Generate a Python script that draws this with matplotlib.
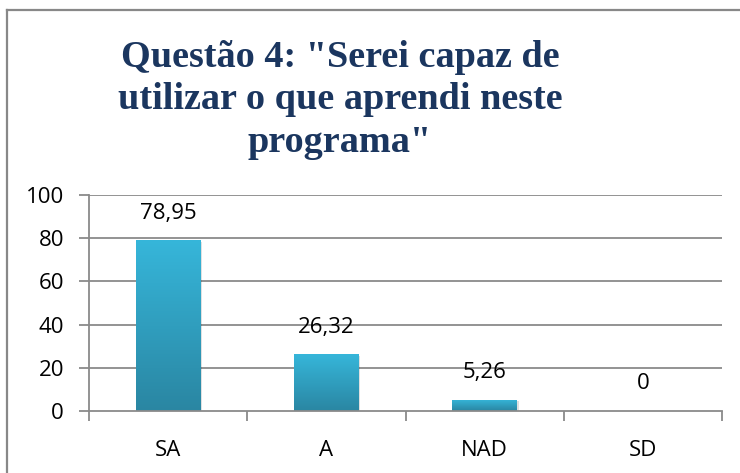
import matplotlib
matplotlib.use("Agg")
import matplotlib.pyplot as plt
import numpy as np
from matplotlib.colors import LinearSegmentedColormap
from matplotlib.patches import Rectangle
from matplotlib.lines import Line2D

categories = ["SA", "A", "NAD", "SD"]
values = [78.95, 26.32, 5.26, 0]
value_labels = ["78,95", "26,32", "5,26", "0"]
yticks = [0, 20, 40, 60, 80, 100]
title_lines = ['Questão 4: "Serei capaz de', 'utilizar o que aprendi neste', 'programa"']

W, H = 740, 473
fig = plt.figure(figsize=(W / 100, H / 100), dpi=100)
fig.patch.set_facecolor("white")

ax = fig.add_axes([89 / W, 62 / H, (722 - 89) / W, 216 / H])
ax.set_xlim(-0.5, len(categories) - 0.5)
ax.set_ylim(0, 100)

grid_c = "#8a8a8a"
for y in yticks[1:]:
    ax.axhline(y, color=grid_c, lw=1.3, zorder=0)

for s in ["top", "right"]:
    ax.spines[s].set_visible(False)
for s in ["left", "bottom"]:
    ax.spines[s].set_color(grid_c)
    ax.spines[s].set_linewidth(1.3)

tick_font = dict(family=["Open Sans", "DejaVu Sans"], size=16)
ax.set_yticks(yticks)
ax.set_yticklabels([str(v) for v in yticks], **tick_font)
ax.set_xticks(range(len(categories)))
ax.set_xticklabels(categories, **tick_font)
ax.tick_params(axis="x", length=0, pad=21)
ax.tick_params(axis="y", length=7, width=1.3, color=grid_c, pad=11)
# category boundary ticks
ax.set_xticks(np.arange(-0.5, len(categories), 1.0), minor=True)
ax.tick_params(axis="x", which="minor", length=7, width=1.3, color=grid_c)

cmap = LinearSegmentedColormap.from_list("g", ["#2a86a2", "#36b6da"])
grad = np.linspace(0, 1, 256).reshape(-1, 1)
bw = 0.41
bars = ax.bar(range(len(categories)), values, width=bw, color="none", zorder=2)
for b, v in zip(bars, values):
    if v <= 0:
        continue
    x0 = b.get_x()
    sh = Rectangle((x0 + 0.01, -0.8), bw, v, facecolor="#000000", alpha=0.12,
                   edgecolor="none", zorder=1.5)
    ax.add_patch(sh)
    im = ax.imshow(grad, extent=(x0, x0 + bw, 0, v), origin="lower", cmap=cmap,
                   aspect="auto", zorder=2, interpolation="bicubic")
    im.set_clip_path(b)
ax.set_xlim(-0.5, len(categories) - 0.5)
ax.set_ylim(0, 100)

for i, (v, lab) in enumerate(zip(values, value_labels)):
    ax.annotate(lab, (i, v), xytext=(0, 19.5), textcoords="offset points",
                ha="center", va="center", **tick_font)

baselines = [67, 109, 152]
for line, yb in zip(title_lines, baselines):
    fig.text(340 / W, 1 - yb / H, line, ha="center", va="baseline",
             family=["Liberation Serif", "DejaVu Serif"], weight="bold",
             size=27.5, color="#1b365f")

# outer frame (top and left only visible)
fig.add_artist(Line2D([6.5 / W, 6.5 / W], [0, 1 - 10 / H], transform=fig.transFigure,
                      color="#888888", lw=1.6))
fig.add_artist(Line2D([6.5 / W, 1], [1 - 10 / H, 1 - 10 / H], transform=fig.transFigure,
                      color="#888888", lw=1.6))

fig.savefig("out.png", dpi=100)
